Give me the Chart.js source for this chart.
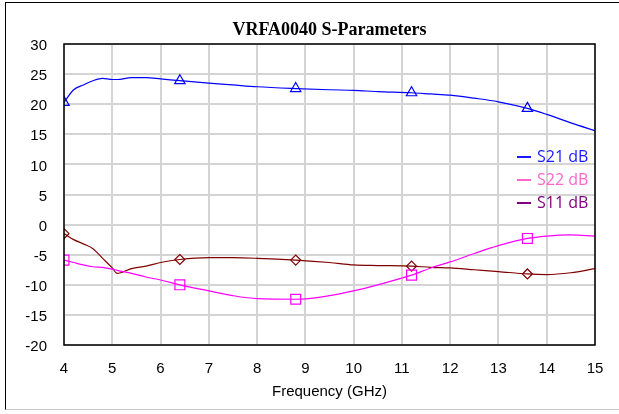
<!DOCTYPE html>
<html>
<head>
<meta charset="utf-8">
<script src="https://cdn.jsdelivr.net/npm/chart.js@4.4.1/dist/chart.umd.min.js"></script>
<style>
  html, body { margin: 0; padding: 0; background: #fff; }
  #wrap { position: relative; width: 619px; height: 414px; }
  #frame { position: absolute; left: 5px; top: 2px; width: 640px; height: 408px; border: 1px solid #000; border-bottom-color: #c8c8c8; box-sizing: border-box; }
  canvas { position: absolute; left: 0; top: 0; }
</style>
</head>
<body>
<div id="wrap">
  <div id="frame"></div>
  <canvas id="chart" width="619" height="414"></canvas>
</div>
<script>
// frequency points (GHz)
const freq = [4, 4.2, 4.4, 4.6, 4.8, 5, 5.1, 5.4, 5.7, 6, 6.4, 7, 7.5, 8, 8.8, 9.5, 10, 10.5, 11.2, 11.6, 12, 12.5, 13, 13.6, 14, 14.5, 15]
const s21 = [20.3, 22.4, 23.2, 23.9, 24.3, 24.1, 24.1, 24.4, 24.4, 24.2, 23.9, 23.5, 23.2, 22.9, 22.6, 22.4, 22.3, 22.1, 21.9, 21.7, 21.5, 21.0, 20.4, 19.3, 18.3, 16.9, 15.6]
const s22 = [-5.9, -6.3, -6.7, -7.0, -7.1, -7.4, -7.6, -8.1, -8.7, -9.2, -10.0, -11.0, -11.8, -12.3, -12.4, -11.8, -11.0, -10.0, -8.4, -7.2, -6.2, -4.8, -3.5, -2.3, -1.9, -1.7, -1.9]
const s11 = [-1.5, -2.5, -3.2, -4.0, -5.6, -7.2, -8.1, -7.3, -6.9, -6.3, -5.8, -5.5, -5.5, -5.6, -5.9, -6.3, -6.7, -6.8, -6.9, -7.1, -7.2, -7.5, -7.8, -8.2, -8.3, -8.0, -7.3]
const markerFreq = [4, 6.4, 8.8, 11.2, 13.6]

const seriesNames = ['S21 dB', 'S22 dB', 'S11 dB']
const legendColors = ['#1a1aff', '#ff66cc', '#800080']

const toPoints = (vals) => freq.map((f, i) => ({ x: f, y: vals[i] }))

function makeSet(label, vals, color, style, size) {
  return {
    label: label,
    data: toPoints(vals),
    borderColor: color,
    borderWidth: 1.2,
    backgroundColor: 'rgba(0,0,0,0)',
    pointBorderColor: color,
    pointBorderWidth: 1.2,
    pointStyle: style,
    pointRadius: ctx => markerFreq.includes(freq[ctx.dataIndex]) ? size : 0,
    cubicInterpolationMode: 'monotone',
    fill: false
  }
}

// frame, title and legend
const extras = {
  id: 'extras',
  beforeDraw(chart) {
    const { ctx, chartArea } = chart
    ctx.save()
    ctx.fillStyle = '#fff'
    ctx.fillRect(chartArea.left, chartArea.top, chartArea.right - chartArea.left, chartArea.bottom - chartArea.top)
    ctx.restore()
  },
  afterDatasetsDraw(chart) {
    const { ctx, chartArea } = chart
    ctx.save()
    ctx.strokeStyle = '#000'
    ctx.lineWidth = 1.5
    ctx.strokeRect(chartArea.left, chartArea.top, chartArea.right - chartArea.left, chartArea.bottom - chartArea.top)

    ctx.fillStyle = '#000'
    ctx.font = 'bold 18px "Liberation Serif"'
    ctx.textAlign = 'center'
    ctx.textBaseline = 'middle'
    ctx.fillText('VRFA0040 S-Parameters', (chartArea.left + chartArea.right) / 2, 30)

    ctx.font = '16px "Open Sans"'
    ctx.textAlign = 'left'
    seriesNames.forEach((name, i) => {
      const y = 157 + i * 23
      ctx.strokeStyle = legendColors[i]
      ctx.lineWidth = 2
      ctx.beginPath()
      ctx.moveTo(517, y)
      ctx.lineTo(531, y)
      ctx.stroke()
      ctx.fillStyle = legendColors[i]
      ctx.fillText(name, 537, y)
    })
    ctx.restore()
  }
}

new Chart(document.getElementById('chart'), {
  type: 'line',
  data: {
    datasets: [
      makeSet('S21 dB', s21, '#0000ff', 'triangle', 6),
      makeSet('S22 dB', s22, '#ff00ff', 'rect', 7),
      makeSet('S11 dB', s11, '#800000', 'rectRot', 5)
    ]
  },
  options: {
    responsive: false,
    animation: false,
    layout: { padding: { top: 44, right: 24, left: 0, bottom: 0 } },
    plugins: {
      legend: { display: false },
      title: { display: false },
      tooltip: { enabled: false }
    },
    scales: {
      x: {
        type: 'linear',
        min: 4,
        max: 15,
        afterFit: s => { s.height = 69 },
        ticks: { stepSize: 1, color: '#000', font: { family: 'Liberation Sans', size: 15 }, padding: 15 },
        grid: { color: '#d4d4d4', lineWidth: 2, drawTicks: false },
        border: { display: false },
        title: { display: true, text: 'Frequency (GHz)', color: '#000', font: { family: 'Liberation Sans', size: 15 }, padding: { top: 0, bottom: 13 } }
      },
      y: {
        min: -20,
        max: 30,
        afterFit: s => { s.width = 64 },
        ticks: { stepSize: 5, color: '#000', font: { family: 'Liberation Sans', size: 15 }, padding: 17, labelOffset: 2 },
        grid: { color: '#d4d4d4', lineWidth: 2, drawTicks: false },
        border: { display: false }
      }
    }
  },
  plugins: [extras]
})
</script>
</body>
</html>
